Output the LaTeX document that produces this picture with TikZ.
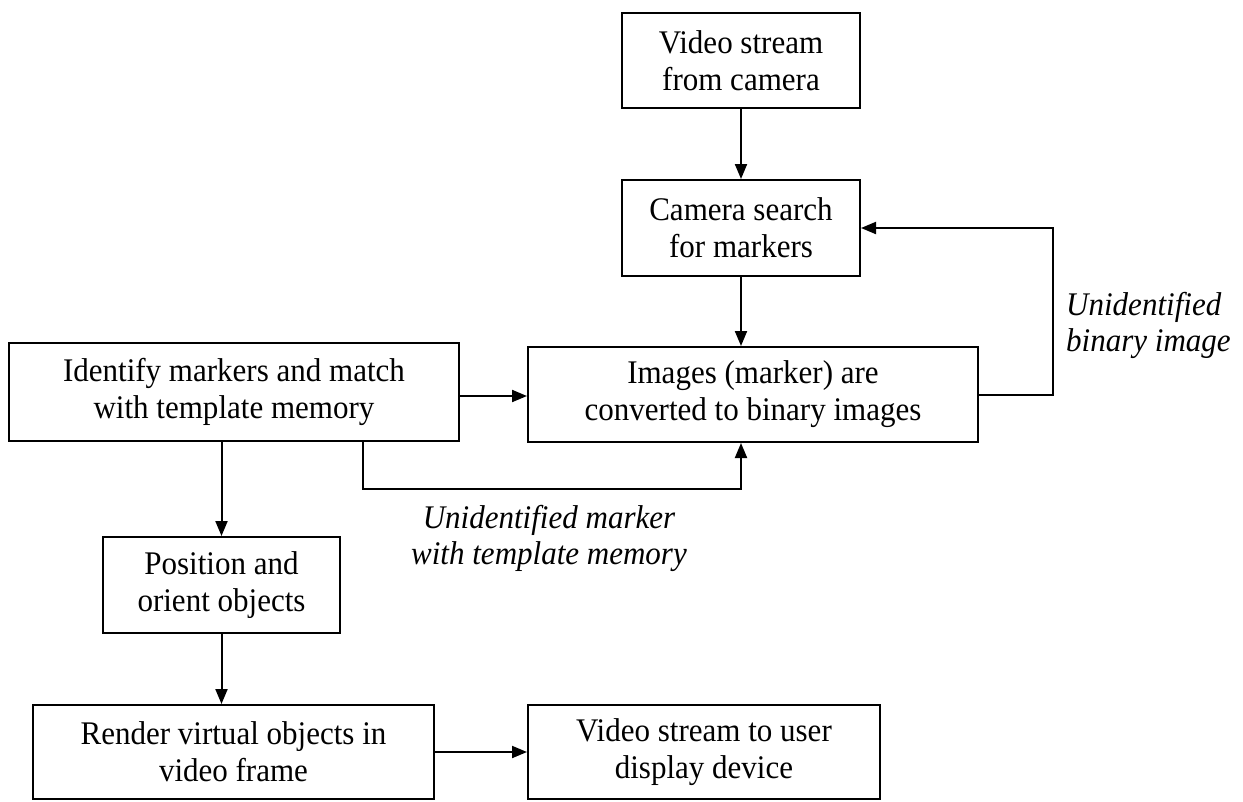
\documentclass[tikz,border=0pt]{standalone}
\usepackage{fontspec}
\setmainfont{Liberation Serif}[FakeStretch=0.94]
\usetikzlibrary{arrows.meta}
\begin{document}
\begin{tikzpicture}[x=1pt,y=-1pt,
  box/.style={draw, line width=2pt, rectangle, inner sep=0pt, align=center,
    font=\fontsize{33}{37}\selectfont},
  lbl/.style={inner sep=0pt, font=\fontsize{33}{36}\selectfont\itshape},
  arr/.style={line width=2pt, -{Triangle[length=15pt,width=12pt]}}]
\useasboundingbox (0,0) rectangle (1243,801);
\node[box, minimum width=238pt, minimum height=95pt] (v1) at (741,60.5) {Video stream\\from camera};
\node[box, minimum width=238pt, minimum height=96pt] (cam) at (741,228) {Camera search\\for markers};
\node[box, minimum width=450pt, minimum height=95pt] (img) at (753,394.5) {Images (marker) are\\converted to binary images};
\node[box, minimum width=450pt, minimum height=98pt] (idf) at (234,392) {Identify markers and match\\with template memory};
\node[box, minimum width=237pt, minimum height=96pt] (pos) at (221.5,585) {Position and\\orient objects};
\node[box, minimum width=401pt, minimum height=94pt] (ren) at (233.5,752) {Render virtual objects in\\video frame};
\node[box, minimum width=352pt, minimum height=94pt] (out) at (704,752) {Video stream to user\\display device};
\node[lbl, align=left, anchor=west] (lb1) at (1066,325) {Unidentified\\binary image};
\node[lbl, align=center] (lb2) at (549,538) {Unidentified marker\\with template memory};
\coordinate (c1) at (363,489);
\draw[arr] (v1.south) -- (cam.north);
\draw[arr] (cam.south) -- (cam.south |- img.north);
\draw[arr] ([yshift=-4pt]idf.east) -- ([yshift=-4pt]idf.east -| img.west);
\draw[arr] (img.east) -- ++(74,0) |- (cam.east);
\draw[arr] (idf.south -| c1) -- (c1) -| (cam.south |- img.south);
\draw[arr] (pos.north |- idf.south) -- (pos.north);
\draw[arr] (pos.south) -- (pos.south |- ren.north);
\draw[arr] (ren.east) -- (out.west);
\end{tikzpicture}
\end{document}
